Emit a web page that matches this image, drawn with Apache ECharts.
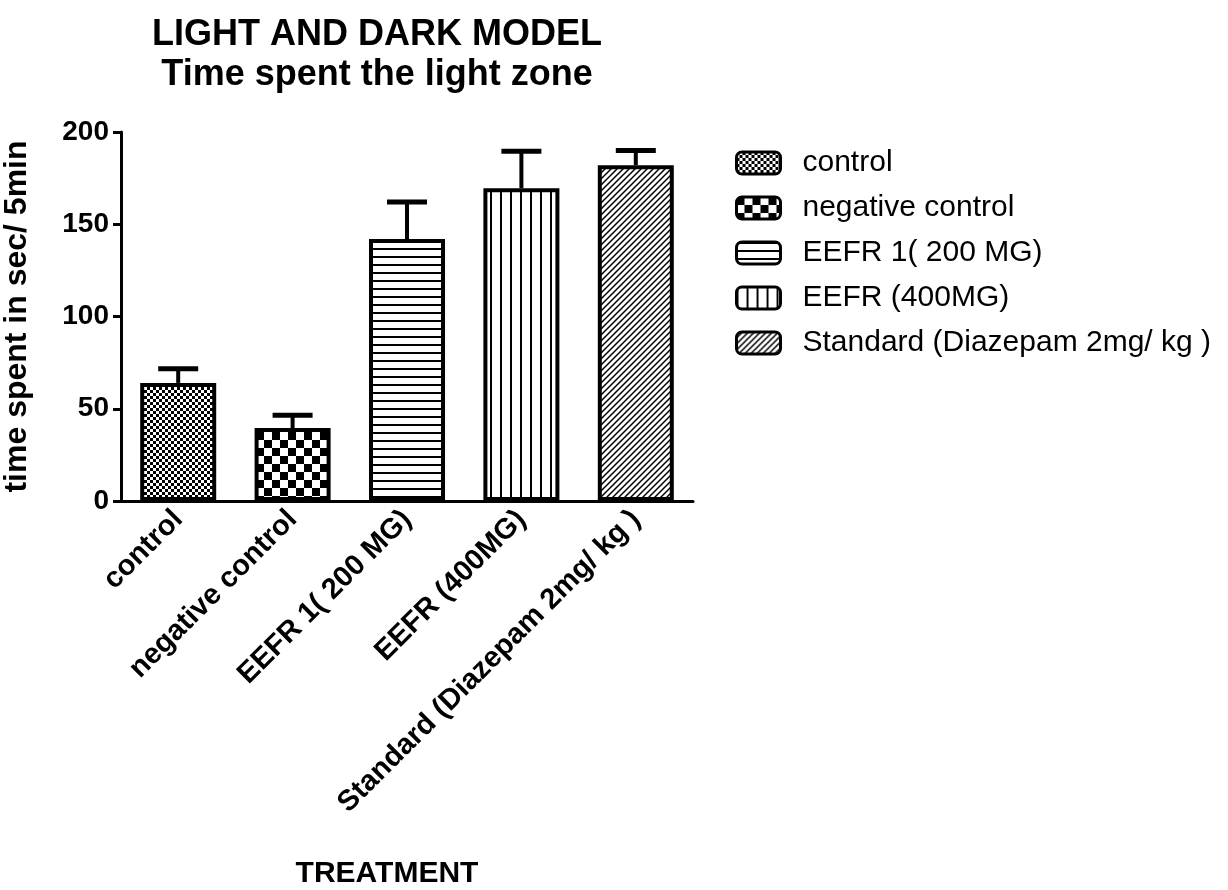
<!DOCTYPE html>
<html>
<head>
<meta charset="utf-8">
<script src="https://cdn.jsdelivr.net/npm/echarts@6/dist/echarts.min.js"></script>
<style>
html,body{margin:0;padding:0;background:#fff;}
#chart{width:1228px;height:890px;}
</style>
</head>
<body>
<div id="chart"></div>
<script>
const categories = ['control', 'negative control', 'EEFR 1( 200 MG)', 'EEFR (400MG)', 'Standard (Diazepam 2mg/ kg )'];
const means = [64, 39.5, 142, 169.5, 182];
const errors = [7.7, 7, 20, 20, 8];
const yTicks = [0, 50, 100, 150, 200];

const FONT = '"Liberation Sans", Arial, Helvetica, sans-serif';

function makePattern(size, draw) {
  const c = document.createElement('canvas');
  c.width = size; c.height = size;
  const ctx = c.getContext('2d');
  ctx.fillStyle = '#fff';
  ctx.fillRect(0, 0, size, size);
  ctx.fillStyle = '#000';
  ctx.strokeStyle = '#000';
  draw(ctx, size);
  return { image: c, repeat: 'repeat' };
}

const patterns = [
  makePattern(6, (ctx) => { ctx.fillRect(0, 0, 3, 3); ctx.fillRect(3, 3, 3, 3); }),
  makePattern(16, (ctx) => { ctx.fillRect(0, 0, 8, 8); ctx.fillRect(8, 8, 8, 8); }),
  makePattern(8, (ctx) => { ctx.fillRect(0, 0, 8, 2); }),
  makePattern(10, (ctx) => { ctx.fillRect(0, 0, 2, 10); }),
  makePattern(6, (ctx, s) => {
    ctx.lineWidth = 1.5;
    ctx.beginPath();
    ctx.moveTo(0, s); ctx.lineTo(s, 0);
    ctx.moveTo(-1, 1); ctx.lineTo(1, -1);
    ctx.moveTo(s - 1, s + 1); ctx.lineTo(s + 1, s - 1);
    ctx.stroke();
  })
];

const barSeries = categories.map((name, i) => ({
  name: name,
  type: 'bar',
  barWidth: 76,
  barGap: '-100%',
  data: categories.map((c, j) => (j === i ? means[i] : '-')),
  itemStyle: { color: patterns[i], borderColor: '#000', borderWidth: 4 },
  emphasis: { disabled: true },
  z: 2
}));

const errData = means.map((m, i) => [i, m, m + errors[i]]);

const errSeries = {
  type: 'custom',
  name: 'err',
  data: errData,
  encode: { x: 0, y: 2 },
  z: 5,
  renderItem: function (params, api) {
    const base = api.coord([api.value(0), api.value(1)]);
    const top = api.coord([api.value(0), api.value(2)]);
    const half = 20;
    return {
      type: 'group',
      children: [
        { type: 'line', shape: { x1: base[0], y1: base[1], x2: top[0], y2: top[1] }, style: { stroke: '#000', lineWidth: 4 } },
        { type: 'line', shape: { x1: top[0] - half, y1: top[1], x2: top[0] + half, y2: top[1] }, style: { stroke: '#000', lineWidth: 5 } }
      ]
    };
  }
};

const chart = echarts.init(document.getElementById('chart'), null, { renderer: 'canvas' });
chart.setOption({
  animation: false,
  backgroundColor: '#fff',
  textStyle: { fontFamily: FONT, color: '#000' },
  title: {
    text: 'LIGHT AND DARK MODEL\nTime spent the light zone',
    left: 372,
    top: 10,
    textAlign: 'center',
    textStyle: { fontFamily: FONT, fontSize: 36, fontWeight: 'bold', color: '#000', lineHeight: 40 }
  },
  legend: {
    data: categories,
    orient: 'vertical',
    left: 730,
    top: 143,
    itemWidth: 44,
    itemHeight: 22,
    itemGap: 15,
    icon: 'roundRect',
    itemStyle: { borderColor: '#000', borderWidth: 3 },
    textStyle: { fontFamily: FONT, fontSize: 30, color: '#000', padding: [0, 0, 0, 17] },
    selectedMode: false
  },
  grid: { left: 115, top: 132, width: 578, height: 383 },
  xAxis: {
    type: 'category',
    data: categories,
    boundaryGap: true,
    name: 'TREATMENT',
    nameLocation: 'middle',
    nameGap: 358,
    nameTextStyle: { fontFamily: FONT, fontSize: 30, fontWeight: 'bold', color: '#000', padding: [0, 40, 0, 0] },
    axisLine: { lineStyle: { color: '#000', width: 3 } },
    axisTick: { alignWithLabel: true, length: 10, lineStyle: { color: '#000', width: 3 } },
    axisLabel: { rotate: 45, margin: 14, fontFamily: FONT, fontSize: 29, fontWeight: 'bold', color: '#000', interval: 0 },
    splitLine: { show: false }
  },
  yAxis: {
    type: 'value',
    min: 0,
    max: 200,
    interval: 50,
    name: 'time spent in sec/ 5min',
    nameLocation: 'middle',
    nameGap: 88,
    nameTextStyle: { fontFamily: FONT, fontSize: 32, fontWeight: 'bold', color: '#000' },
    axisLine: { show: true, lineStyle: { color: '#000', width: 3 } },
    axisTick: { show: true, length: 8, lineStyle: { color: '#000', width: 3 } },
    axisLabel: {
      margin: 12, fontFamily: FONT, fontSize: 28, fontWeight: 'bold', color: '#000',
      formatter: function (v) { return yTicks.indexOf(v) >= 0 ? String(v) : ''; }
    },
    splitLine: { show: false }
  },
  series: barSeries.concat([errSeries])
});
</script>
</body>
</html>
